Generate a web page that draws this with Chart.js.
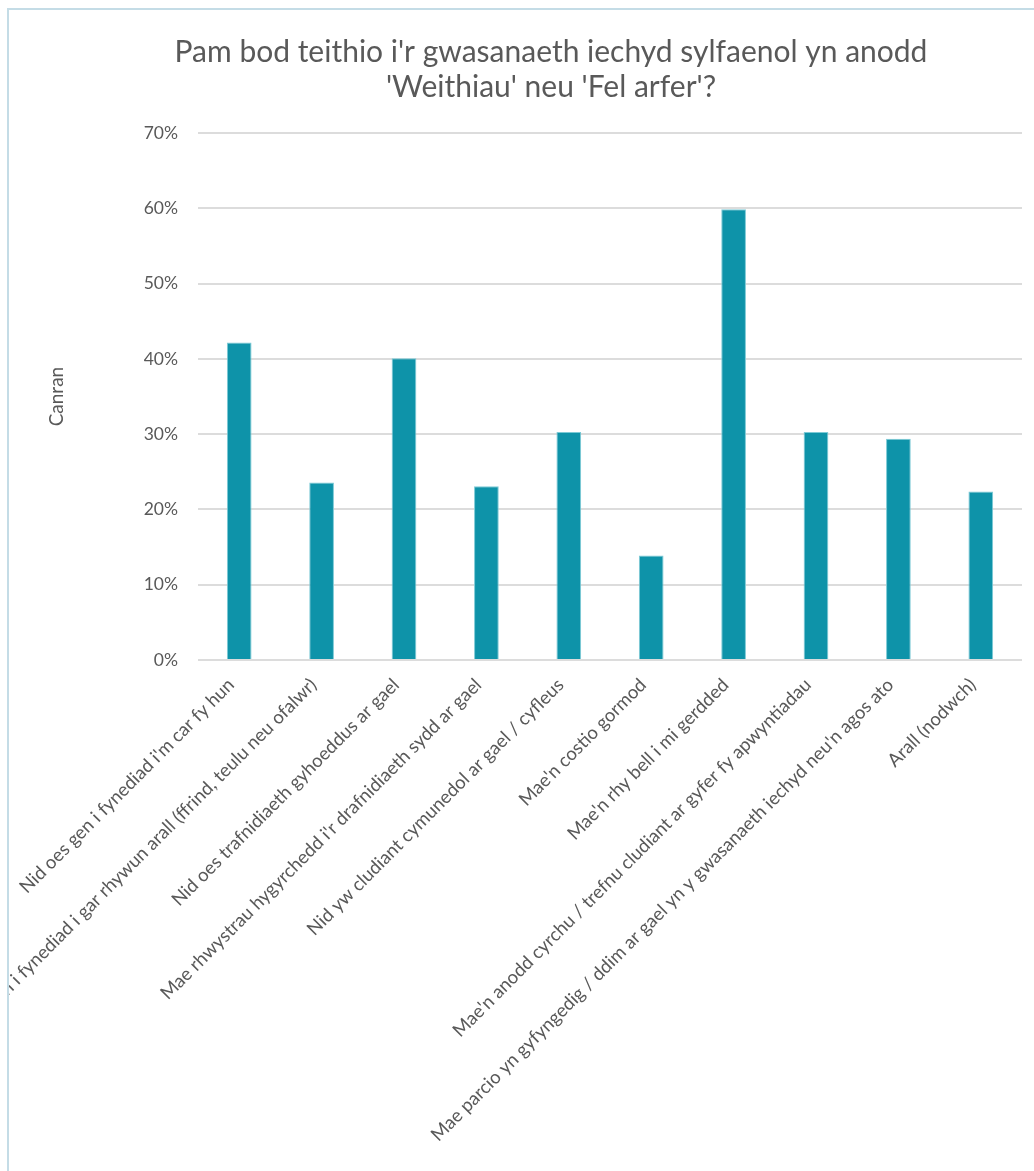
<!DOCTYPE html>
<html>
<head>
<meta charset="utf-8">
<script src="https://cdn.jsdelivr.net/npm/chart.js@4"></script>
<style>
  html, body { margin: 0; padding: 0; background: #fff; overflow: hidden; }
  #frame {
    position: absolute; left: 7px; top: 8px;
    width: 1200px; height: 1300px;
    border: 2px solid #c4dce6;
  }
  #chart { position: absolute; left: 9px; top: 10px; }
</style>
</head>
<body>
<div id="frame"></div>
<canvas id="chart" width="1084" height="1161"></canvas>
<script>
let titleLines = ["Pam bod teithio i'r gwasanaeth iechyd sylfaenol yn anodd", "'Weithiau' neu 'Fel arfer'?"];
let yTitle = "Canran";

let categories = [
  "Nid oes gen i fynediad i'm car fy hun",
  "Nid oes gen i fynediad i gar rhywun arall (ffrind, teulu neu ofalwr)",
  "Nid oes trafnidiaeth gyhoeddus ar gael",
  "Mae rhwystrau hygyrchedd i'r drafnidiaeth sydd ar gael",
  "Nid yw cludiant cymunedol ar gael / cyfleus",
  "Mae'n costio gormod",
  "Mae'n rhy bell i mi gerdded",
  "Mae'n anodd cyrchu / trefnu cludiant ar gyfer fy apwyntiadau",
  "Mae parcio yn gyfyngedig / ddim ar gael yn y gwasanaeth iechyd neu'n agos ato",
  "Arall (nodwch)"
];

let values = [42.2, 23.6, 40.1, 23.1, 30.3, 13.9, 59.9, 30.3, 29.4, 22.4];

let yMin = 0;
let yMax = 70;
let yStep = 10;

let barColor = '#0e93a9';
let textColor = '#595959';
let fontName = 'Lato, "Open Sans", sans-serif';

let chart = new Chart(document.getElementById('chart'), {
  type: 'bar',
  data: {
    labels: categories,
    datasets: [{
      data: values,
      backgroundColor: barColor,
      borderColor: '#7ccad6',
      borderWidth: 1,
      barPercentage: 0.3,
      categoryPercentage: 1
    }]
  },
  options: {
    responsive: false,
    animation: false,
    layout: { padding: { left: 71, right: 71, top: 0, bottom: 0 } },
    plugins: {
      legend: { display: false },
      tooltip: { enabled: false },
      title: {
        display: true,
        text: titleLines,
        color: textColor,
        font: { family: fontName, size: 30, weight: 'normal', lineHeight: 1.17 },
        padding: { top: 25, bottom: 28 }
      }
    },
    scales: {
      x: {
        grid: { display: false },
        border: { display: false },
        ticks: {
          color: textColor,
          font: { family: fontName, size: 18.5 },
          minRotation: 45,
          maxRotation: 45,
          autoSkip: false,
          padding: 6,
          labelOffset: -8
        },
        afterFit: function(scale) { scale.height = 511; }
      },
      y: {
        min: yMin,
        max: yMax,
        grid: { color: '#dcdcdc', lineWidth: 2, drawTicks: false },
        border: { display: false },
        ticks: {
          stepSize: yStep,
          color: textColor,
          font: { family: fontName, size: 17.5 },
          padding: 20,
          callback: function(v) { return v + '%'; }
        },
        title: {
          display: true,
          text: yTitle,
          color: textColor,
          font: { family: fontName, size: 19 },
          padding: { top: -35, bottom: 0 }
        },
        afterFit: function(scale) { scale.width = 118; }
      }
    }
  }
});
</script>
</body>
</html>
